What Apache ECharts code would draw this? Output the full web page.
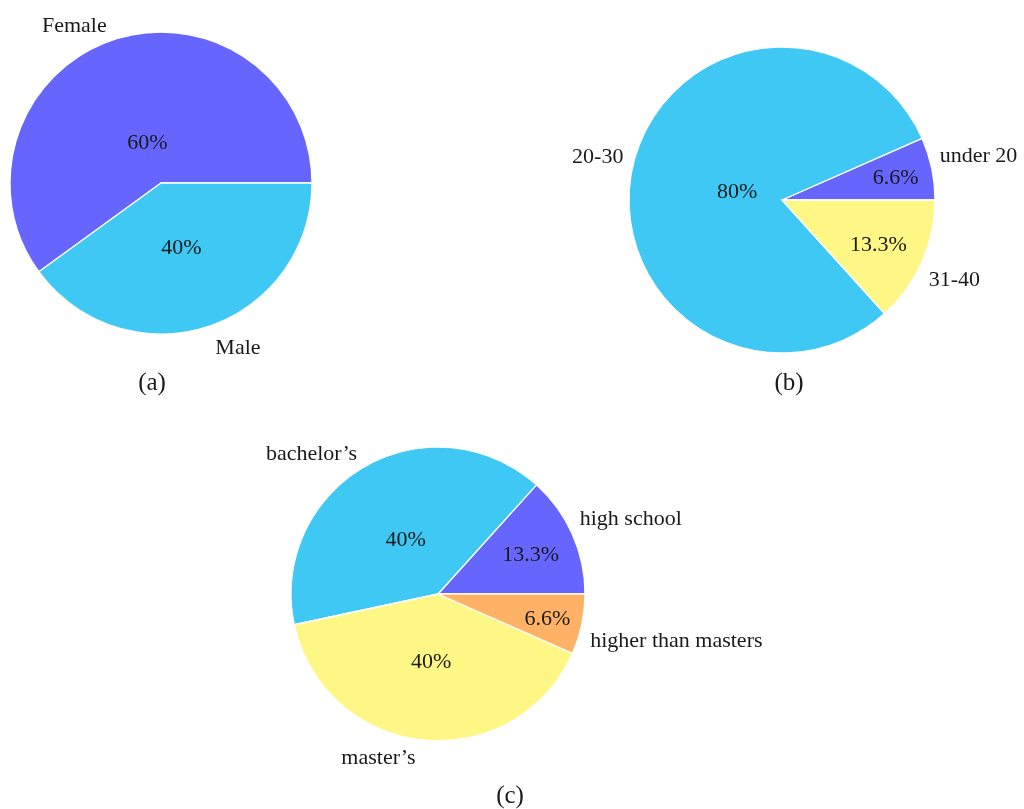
<!DOCTYPE html>
<html>
<head>
<meta charset="utf-8">
<script src="https://cdn.jsdelivr.net/npm/echarts@6/dist/echarts.min.js"></script>
<style>html,body{margin:0;padding:0;background:#fff}#c{width:1024px;height:809px}</style>
</head>
<body>
<div id="c"></div>
<script>
// ---- data ----
const genderLabels = ['Female', 'Male'];
const genderValues = [60, 40];
const ageLabels = ['under 20', '20-30', '31-40'];
const ageValues = [6.6, 80, 13.3];
const eduLabels = ['high school', "bachelor\u2019s", "master\u2019s", 'higher than masters'];
const eduValues = [13.3, 40, 40, 6.6];
const captions = ['(a)', '(b)', '(c)'];

// ---- layout / style (not data) ----
const PURPLE = '#6666ff', CYAN = '#40c8f4', YELLOW = '#fff785', ORANGE = '#ffb266';
const FONT = '"Liberation Serif", "Times New Roman", serif';
const TEXT = '#1a1a1a';
const FS = 22;
const BASE_DY = 2;
// radial position of the percentage text, as a fraction of the radius
const genderPctDist = [0.29, 0.44];
const agePctDist = [0.76, 0.30, 0.69];
const eduPctDist = [0.69, 0.44, 0.45, 0.76];
// small nudges of the outer labels [dx, dy]
const genderNudge = [[-3, -1], [3, 5]];
const ageNudge = [[-7, -11], [6, -10], [-7, 10]];
const eduNudge = [[-6, -11], [0, -2], [-6, 1], [-6, 12]];

function pies(labels, values, colors, center, r, pctDist, nudge) {
  const data = labels.map((n, i) => ({ name: n, value: values[i] }));
  const out = [{
    type: 'pie', center: center, radius: r, startAngle: 0, clockwise: false,
    avoidLabelOverlap: false, silent: true, animation: false,
    data: data.map((d, i) => ({ ...d, itemStyle: { color: colors[i] } })),
    itemStyle: { borderColor: '#ffffff', borderWidth: 1.3 },
    label: { show: true, position: 'outside', formatter: '{b}', color: TEXT, fontFamily: FONT, fontSize: FS, distanceToLabelLine: 0 },
    labelLine: { show: false, length: r * 0.1, length2: 0 },
    labelLayout: function (p) { const n = nudge[p.dataIndex]; return { dx: n[0], dy: n[1] + BASE_DY }; },
    emphasis: { disabled: true }
  }];
  labels.forEach((_, k) => {
    out.push({
      type: 'pie', center: center, radius: Math.max(2, 2 * pctDist[k] * r - 6), startAngle: 0, clockwise: false,
      avoidLabelOverlap: false, silent: true, animation: false, z: 5,
      data: data.map((d, i) => ({ ...d, label: { show: i === k } })),
      itemStyle: { color: 'rgba(0,0,0,0)', borderWidth: 0 },
      label: { position: 'inside', formatter: '{c}%', color: TEXT, fontFamily: FONT, fontSize: FS },
      labelLayout: function () { return { dy: BASE_DY }; },
      labelLine: { show: false },
      emphasis: { disabled: true }
    });
  });
  return out;
}

const capStyle = { fontFamily: FONT, fontSize: 25, fontWeight: 'normal', color: TEXT };
const chart = echarts.init(document.getElementById('c'), null, { renderer: 'canvas' });
chart.setOption({
  backgroundColor: '#ffffff',
  animation: false,
  title: [
    { text: captions[0], left: 152, top: 371, textAlign: 'center', padding: 0, textStyle: capStyle },
    { text: captions[1], left: 789, top: 371, textAlign: 'center', padding: 0, textStyle: capStyle },
    { text: captions[2], left: 510, top: 784, textAlign: 'center', padding: 0, textStyle: capStyle }
  ],
  series: [
    ...pies(genderLabels, genderValues, [PURPLE, CYAN], [161, 183], 151, genderPctDist, genderNudge),
    ...pies(ageLabels, ageValues, [PURPLE, CYAN, YELLOW], [782, 200], 153, agePctDist, ageNudge),
    ...pies(eduLabels, eduValues, [PURPLE, CYAN, YELLOW, ORANGE], [438, 594], 147, eduPctDist, eduNudge)
  ]
});
</script>
</body>
</html>
